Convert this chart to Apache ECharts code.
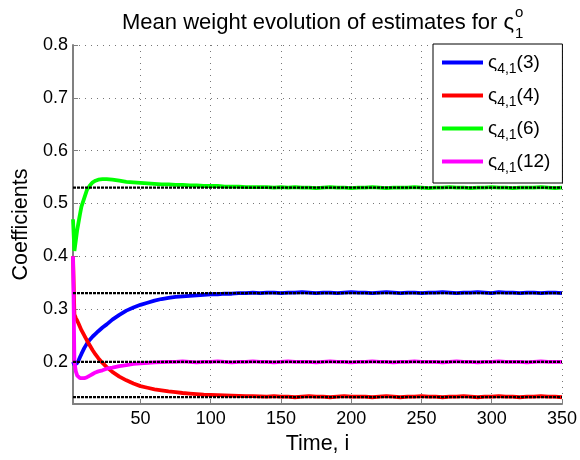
<!DOCTYPE html>
<html>
<head>
<meta charset="utf-8">
<script src="https://cdn.jsdelivr.net/npm/echarts@6/dist/echarts.min.js"></script>
<style>
  html, body { margin: 0; padding: 0; background: #fff; }
  #chart { width: 580px; height: 460px; }
</style>
</head>
<body>
<div id="chart"></div>
<script>
// Time index of each sample
const timeSteps = [
  2, 3, 4, 5, 6, 7, 8, 10, 12, 14, 16, 18, 20, 23, 26, 30, 35, 40, 45,
  50, 55, 60, 65, 70, 75, 80, 85, 90, 95,
  100, 105, 110, 115, 120, 125, 130, 135, 140, 145,
  150, 155, 160, 165, 170, 175, 180, 185, 190, 195,
  200, 205, 210, 215, 220, 225, 230, 235, 240, 245,
  250, 255, 260, 265, 270, 275, 280, 285, 290, 295,
  300, 305, 310, 315, 320, 325, 330, 335, 340, 345, 350
];

// Mean weight of each estimate over time
const weight3 = [
  0.200, 0.194, 0.195, 0.198, 0.203, 0.209, 0.215, 0.226, 0.235, 0.242, 0.248, 0.253, 0.258, 0.265, 0.271, 0.280, 0.289, 0.297, 0.303,
  0.308, 0.312, 0.316, 0.319, 0.321, 0.323, 0.324, 0.325, 0.326, 0.327,
  0.328, 0.328, 0.329, 0.329, 0.330, 0.330, 0.331, 0.330, 0.331, 0.331,
  0.330, 0.331, 0.331, 0.332, 0.331, 0.330, 0.331, 0.331, 0.330, 0.331,
  0.332, 0.331, 0.331, 0.330, 0.331, 0.332, 0.331, 0.330, 0.331, 0.331,
  0.330, 0.331, 0.331, 0.332, 0.331, 0.330, 0.331, 0.331, 0.332, 0.331,
  0.330, 0.332, 0.331, 0.331, 0.330, 0.331, 0.331, 0.330, 0.331, 0.331, 0.330
];
const weight4 = [
  0.400, 0.290, 0.283, 0.278, 0.272, 0.266, 0.260, 0.250, 0.240, 0.231, 0.222, 0.214, 0.207, 0.198, 0.190, 0.181, 0.172, 0.165, 0.159,
  0.154, 0.151, 0.148, 0.146, 0.144, 0.1425, 0.141, 0.140, 0.139, 0.138,
  0.1375, 0.137, 0.1365, 0.136, 0.1355, 0.135, 0.135, 0.1345, 0.134, 0.135,
  0.134, 0.134, 0.133, 0.134, 0.135, 0.134, 0.134, 0.133, 0.134, 0.135,
  0.134, 0.134, 0.134, 0.133, 0.134, 0.135, 0.134, 0.133, 0.134, 0.134,
  0.135, 0.134, 0.134, 0.133, 0.134, 0.134, 0.135, 0.134, 0.133, 0.134,
  0.134, 0.135, 0.134, 0.134, 0.133, 0.134, 0.134, 0.135, 0.134, 0.134, 0.133
];
const weight6 = [
  0.470, 0.410, 0.430, 0.450, 0.465, 0.480, 0.494, 0.510, 0.526, 0.534, 0.540, 0.543, 0.545, 0.546, 0.546, 0.545, 0.543, 0.541, 0.540,
  0.539, 0.538, 0.537, 0.536, 0.536, 0.535, 0.535, 0.534, 0.534, 0.533,
  0.533, 0.533, 0.532, 0.532, 0.532, 0.531, 0.531, 0.531, 0.531, 0.530,
  0.531, 0.530, 0.531, 0.530, 0.530, 0.529, 0.530, 0.531, 0.530, 0.530,
  0.529, 0.530, 0.530, 0.531, 0.530, 0.529, 0.530, 0.530, 0.530, 0.531,
  0.530, 0.529, 0.530, 0.530, 0.531, 0.530, 0.530, 0.529, 0.530, 0.530,
  0.531, 0.530, 0.530, 0.529, 0.530, 0.530, 0.530, 0.531, 0.530, 0.529, 0.530
];
const weight12 = [
  0.400, 0.200, 0.182, 0.174, 0.171, 0.169, 0.168, 0.169, 0.171, 0.174, 0.177, 0.180, 0.182, 0.184, 0.187, 0.189, 0.192, 0.194, 0.196,
  0.197, 0.198, 0.199, 0.1995, 0.200, 0.200, 0.201, 0.200, 0.199, 0.200,
  0.200, 0.201, 0.200, 0.199, 0.200, 0.200, 0.201, 0.200, 0.200, 0.199,
  0.200, 0.201, 0.200, 0.200, 0.200, 0.199, 0.200, 0.201, 0.200, 0.200,
  0.199, 0.200, 0.200, 0.201, 0.200, 0.200, 0.199, 0.200, 0.200, 0.201,
  0.200, 0.200, 0.200, 0.199, 0.200, 0.201, 0.200, 0.200, 0.199, 0.200,
  0.200, 0.201, 0.200, 0.200, 0.200, 0.199, 0.200, 0.201, 0.200, 0.200, 0.200
];

// True coefficient values (black reference lines)
const trueValues = [0.53, 0.33, 0.2, 0.1333];

// Legend labels and colours
const estimateIds = ['3', '4', '6', '12'];
const lineColors = ['#0000ff', '#ff0000', '#00ff00', '#ff00ff'];
const weightSets = [weight3, weight4, weight6, weight12];

// Axis ticks
const xTicks = [50, 100, 150, 200, 250, 300, 350];
const yTicks = [0.2, 0.3, 0.4, 0.5, 0.6, 0.7, 0.8];

// Title pieces: main text, symbol, subscript, superscript
const titleMain = 'Mean weight evolution of estimates for';
const titleSymbol = 'ς';
const titleSub = '1';
const titleSup = 'o';

const FONT = '"Liberation Sans", Arial, Helvetica, sans-serif';

function textWidth(str, size) {
  const ctx = document.createElement('canvas').getContext('2d');
  ctx.font = size + 'px ' + FONT;
  return ctx.measureText(str).width;
}

const seriesNames = estimateIds.map(id => 'ς4,1(' + id + ')');

const series = [];
weightSets.forEach((vals, k) => {
  series.push({
    name: seriesNames[k],
    type: 'line',
    data: timeSteps.map((t, i) => [t, vals[i]]),
    showSymbol: false,
    symbol: 'none',
    lineStyle: { color: lineColors[k], width: 3.8 },
    itemStyle: { color: lineColors[k] },
    z: 2 + k
  });
});
trueValues.forEach((v, k) => {
  series.push({
    name: 'true' + k,
    type: 'line',
    data: [[timeSteps[0], v], [timeSteps[timeSteps.length - 1], v]],
    symbol: 'none',
    lineStyle: { color: '#000', width: 2.2, type: [3, 1] },
    z: 10
  });
});

// Title layout (separate text elements so the stacked sub/superscript can sit together)
const TITLE_SIZE = 22;
const SCRIPT_SIZE = 15;
const titleX = 122;
const mainW = textWidth(titleMain, TITLE_SIZE);
const symX = titleX + mainW + 6;
const symW = textWidth(titleSymbol, TITLE_SIZE);
const scriptX = symX + symW + 1;

const titleStyle = (text, size) => ({
  text: text,
  fontSize: size,
  fontFamily: FONT,
  fontWeight: 'normal',
  fill: '#000',
  align: 'left',
  verticalAlign: 'middle'
});

const chart = echarts.init(document.getElementById('chart'), null, { renderer: 'canvas' });
chart.setOption({
  animation: false,
  backgroundColor: '#fff',
  textStyle: { fontFamily: FONT },
  graphic: [
    { type: 'text', x: titleX, y: 23.4, style: titleStyle(titleMain, TITLE_SIZE) },
    { type: 'text', x: symX, y: 23.4, style: titleStyle(titleSymbol, TITLE_SIZE) },
    { type: 'text', x: scriptX, y: 33.5, style: titleStyle(titleSub, SCRIPT_SIZE) },
    { type: 'text', x: scriptX, y: 13.3, style: titleStyle(titleSup, SCRIPT_SIZE) }
  ],
  legend: {
    data: seriesNames,
    orient: 'vertical',
    left: 433,
    top: 44,
    backgroundColor: '#fff',
    borderColor: '#000',
    borderWidth: 1,
    borderRadius: 0,
    padding: [9, 12, 8, 9],
    itemWidth: 41,
    itemHeight: 4,
    itemGap: 10,
    icon: 'rect',
    formatter: function (name) {
      const id = name.slice(name.indexOf('(') + 1, name.indexOf(')'));
      return '{m|ς}{s|4,1}{m|(' + id + ')}';
    },
    textStyle: {
      fontFamily: FONT,
      rich: {
        m: { fontSize: 19, lineHeight: 27, color: '#000', fontFamily: FONT, verticalAlign: 'middle' },
        s: { fontSize: 14, lineHeight: 14, color: '#000', fontFamily: FONT, verticalAlign: 'bottom' }
      }
    }
  },
  grid: { left: 73, right: 17, top: 45, bottom: 52, containLabel: false },
  xAxis: {
    type: 'value',
    min: 2,
    max: 350,
    name: 'Time, i',
    nameLocation: 'middle',
    nameGap: 26,
    nameTextStyle: { fontSize: 21.5, color: '#000', fontFamily: FONT },
    axisLine: { show: true, onZero: false, lineStyle: { color: '#808080', width: 2 } },
    axisTick: { show: true, inside: true, length: 5, customValues: xTicks, lineStyle: { color: '#808080', width: 1 } },
    axisLabel: { customValues: xTicks, fontSize: 18, color: '#000', margin: 6, fontFamily: FONT },
    splitLine: { show: true, lineStyle: { color: '#777', width: 1, type: [1, 5] } }
  },
  yAxis: {
    type: 'value',
    min: 0.12,
    max: 0.8,
    name: 'Coefficients',
    nameLocation: 'middle',
    nameGap: 37,
    nameTextStyle: { fontSize: 21.5, color: '#000', fontFamily: FONT },
    axisLine: { show: true, onZero: false, lineStyle: { color: '#808080', width: 2 } },
    axisTick: { show: true, inside: true, length: 5, customValues: yTicks, lineStyle: { color: '#808080', width: 1 } },
    axisLabel: {
      customValues: yTicks,
      fontSize: 18,
      color: '#000',
      margin: 5,
      fontFamily: FONT,
      formatter: v => v.toFixed(1)
    },
    splitLine: { show: true, lineStyle: { color: '#777', width: 1, type: [1, 5] } }
  },
  series: series
});
</script>
</body>
</html>
